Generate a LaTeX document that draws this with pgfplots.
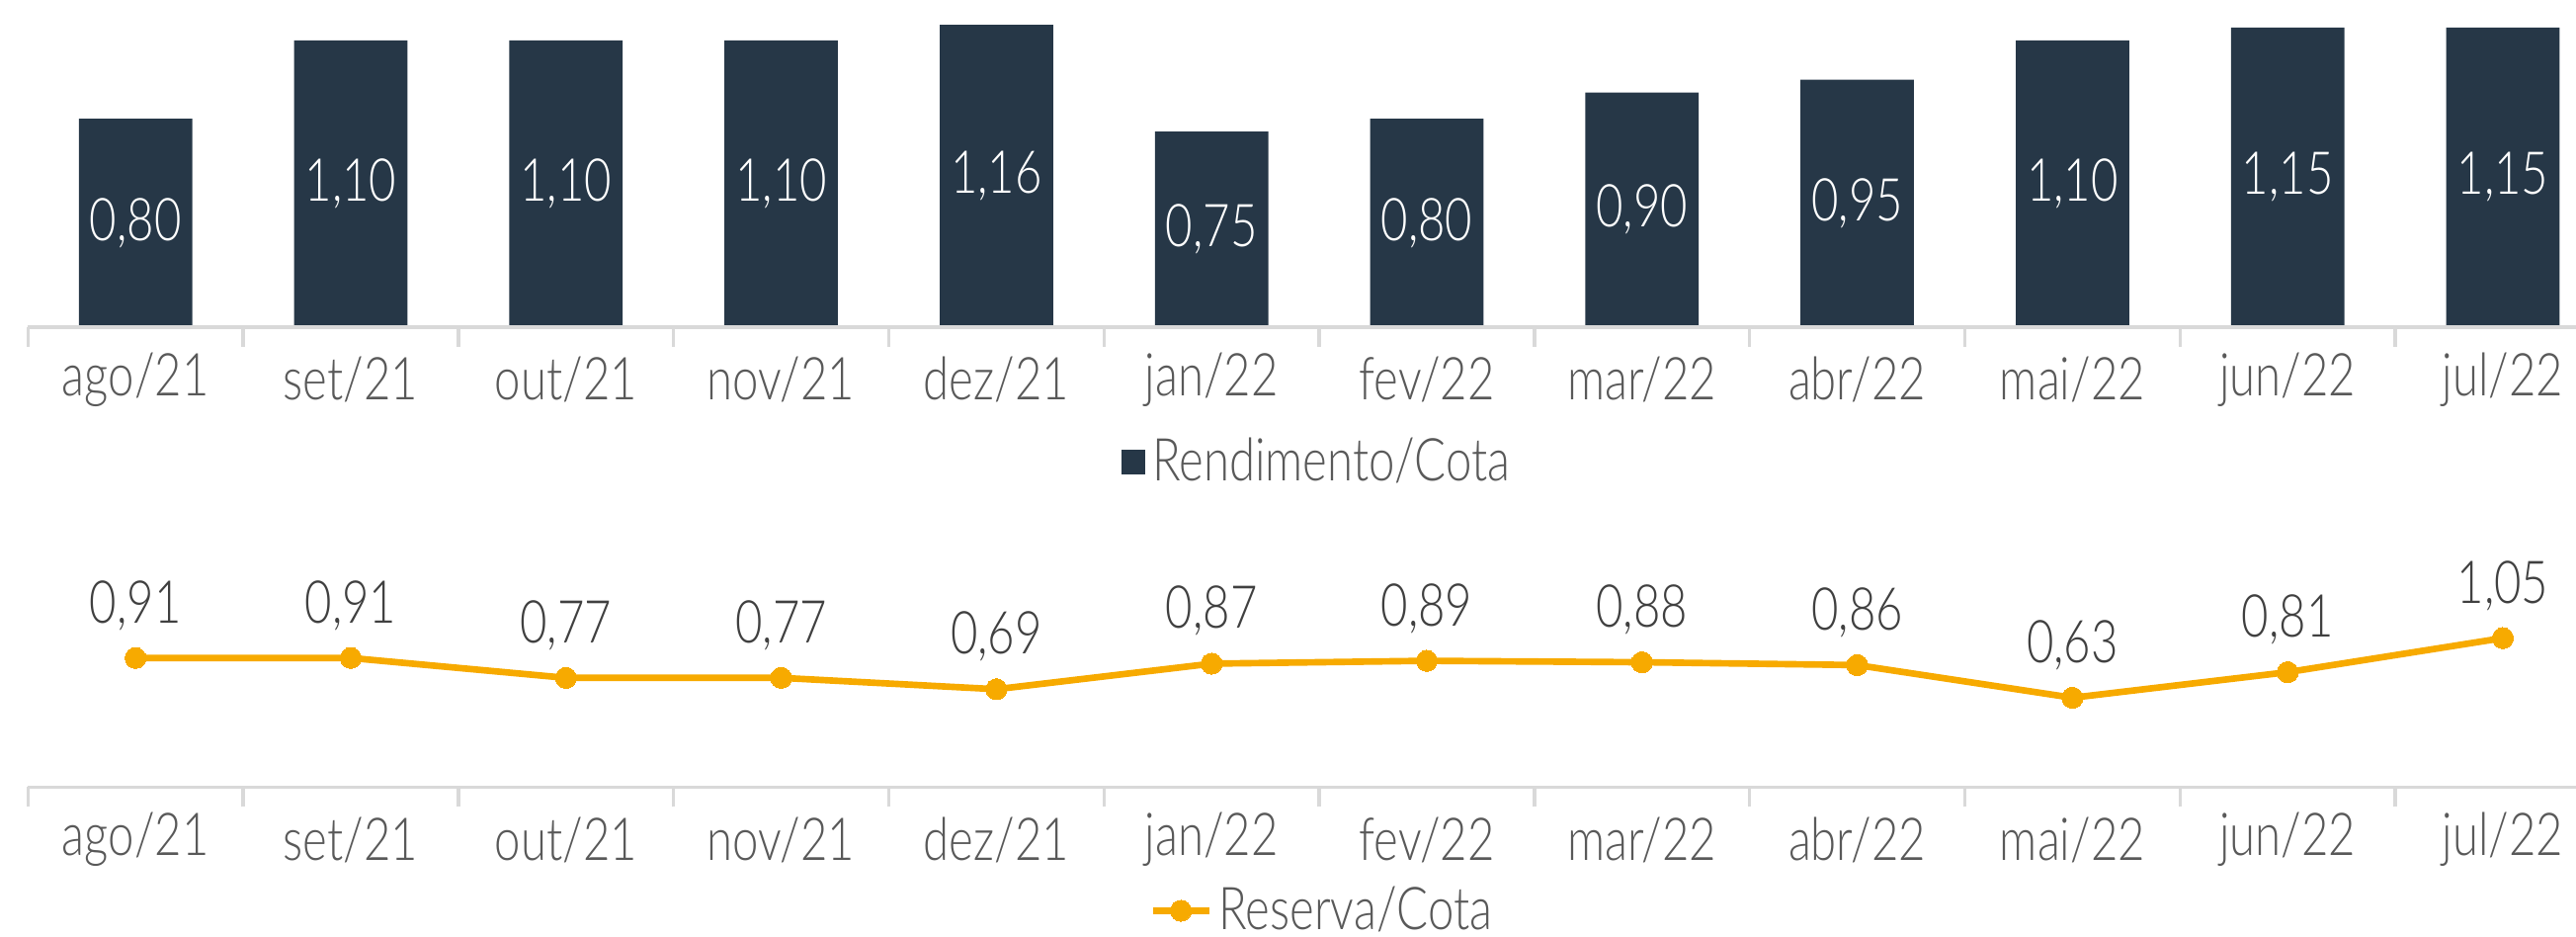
\documentclass[border=0pt]{standalone}
\usepackage{fontspec}
\setmainfont{Lato}[UprightFont=* Light, FakeStretch=0.79]
\usepackage{pgfplots}
\pgfplotsset{compat=1.18}

\definecolor{barcol}{RGB}{38,55,71}
\definecolor{linecol}{RGB}{247,170,0}
\definecolor{ticklab}{RGB}{89,89,89}
\definecolor{axisgray}{RGB}{217,217,217}
\definecolor{lbl}{RGB}{64,64,64}

\newcommand{\lblfont}{\fontsize{18}{21}\selectfont}

\pgfplotsset{
  monthaxis/.style={
    width=784pt, scale only axis,
    xmin=-0.63, xmax=11.34, ymin=0,
    axis y line=none, axis x line*=bottom,
    x axis line style={draw=none},
    xtick={-0.5,0.5,...,10.5}, xticklabels={},
    tick align=outside, major tick length=6pt,
    tick style={draw=axisgray, line width=1pt},
    extra x ticks={0,...,11},
    extra x tick labels={ago/21,set/21,out/21,nov/21,dez/21,jan/22,fev/22,mar/22,abr/22,mai/22,jun/22,jul/22},
    extra x tick style={major tick length=0pt},
    xticklabel style={font=\lblfont, text=ticklab, anchor=center, yshift=-16pt},
    legend style={draw=none, fill=none, font=\lblfont, text=ticklab, inner sep=0pt, anchor=center},
    clip=false,
    /pgf/number format/.cd, use comma, fixed, fixed zerofill, precision=2, assume math mode=true,
  },
}

\begin{document}
\begin{tikzpicture}
% Rendimento/Cota
\begin{axis}[monthaxis, at={(0pt,140pt)}, height=99.5pt, ymax=1.2555,
  legend style={at={(0.512,-0.412)}}]
\addplot[ybar, bar width=0.527, fill=barcol, draw=none,
  nodes near coords,
  visualization depends on={y \as \rawy},
  every node near coord/.append style={font=\lblfont, text=white, anchor=center,
    shift={(axis direction cs:0,-\rawy/2)}},
  legend image code/.code={\fill[barcol] (0pt,-3.75pt) rectangle (7.5pt,3.75pt);}]
coordinates {(0,0.80)(1,1.10)(2,1.10)(3,1.10)(4,1.16)(5,0.75)(6,0.80)(7,0.90)(8,0.95)(9,1.10)(10,1.15)(11,1.15)};
\addlegendentry{Rendimento/Cota}
\draw[axisgray, line width=1pt] (axis cs:-0.5,0) -- (axis cs:11.34,0);
\end{axis}
% Reserva/Cota
\begin{axis}[monthaxis, at={(0pt,0pt)}, height=89.5pt, ymax=2.072,
  legend style={at={(0.514,-0.42)}}]
\addplot[linecol, line width=2pt, mark=*, mark size=3.2pt,
  mark options={fill=linecol, draw=linecol, line width=0pt},
  nodes near coords,
  every node near coord/.append style={font=\lblfont, text=lbl, anchor=center, yshift=16pt}]
coordinates {(0,0.91)(1,0.91)(2,0.77)(3,0.77)(4,0.69)(5,0.87)(6,0.89)(7,0.88)(8,0.86)(9,0.63)(10,0.81)(11,1.05)};
\addlegendentry{Reserva/Cota}
\draw[axisgray, line width=1pt] (axis cs:-0.5,0) -- (axis cs:11.34,0);
\end{axis}
\pgfresetboundingbox
\path (0pt,-45.5pt) rectangle (784pt,239.5pt);
\end{tikzpicture}
\end{document}
